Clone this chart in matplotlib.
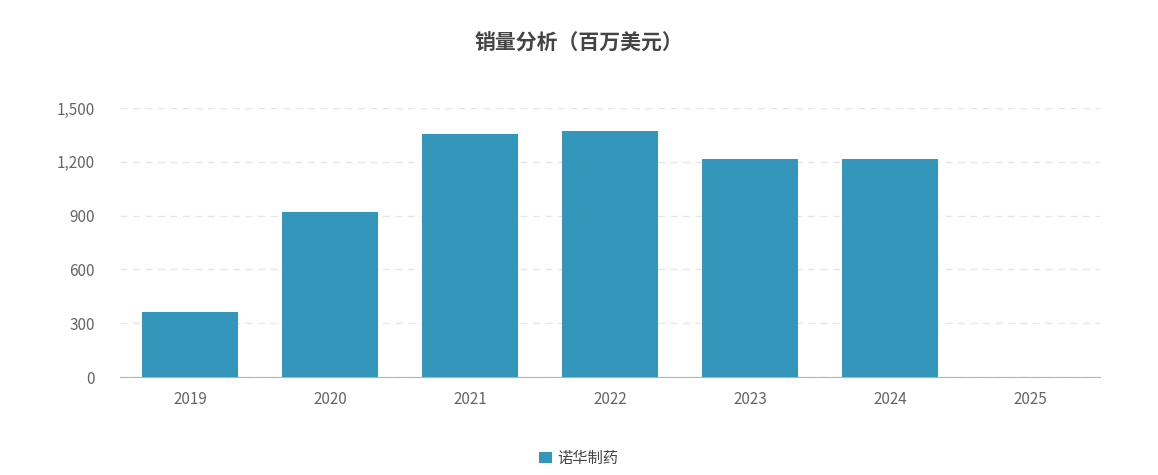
import matplotlib
matplotlib.use("Agg")
import matplotlib.pyplot as plt
from matplotlib.ticker import FuncFormatter

plt.rcParams['font.family'] = ['Noto Sans CJK SC', 'DejaVu Sans']

years = ["2019", "2020", "2021", "2022", "2023", "2024", "2025"]
sales = [362, 920, 1355, 1372, 1216, 1216, 0]
series_name = "诺华制药"
title = "销量分析（百万美元）"

fig = plt.figure(figsize=(11.58, 4.75), dpi=100)
ax = fig.add_axes([0.1036, 0.2063, 0.8463, 0.5663])
x = range(len(years))
ax.bar(x, sales, width=0.69, color="#3596bb", label=series_name, zorder=3)
ax.set_xlim(-0.5, len(years) - 0.5)
ax.set_ylim(0, 1500)
ax.set_yticks([0, 300, 600, 900, 1200, 1500])
ax.yaxis.set_major_formatter(FuncFormatter(lambda v, p: f"{int(v):,}"))
ax.set_xticks(list(x))
ax.set_xticklabels(years)
ax.grid(axis="y", color="#e3e6ea", linestyle=(0, (5, 4)), linewidth=1, zorder=0)
for s in ["top", "right", "left"]:
    ax.spines[s].set_visible(False)
ax.spines["bottom"].set_color("#b0b4bb")
ax.tick_params(axis="y", length=0, labelsize=11, labelcolor="#666666", pad=18)
ax.tick_params(axis="x", length=0, labelsize=11, labelcolor="#666666", pad=10)
fig.text(0.5, 0.91, title, ha="center", va="center", fontsize=15, fontweight="bold", color="#444444")
fig.legend(loc="center", bbox_to_anchor=(0.5, 0.035), frameon=False, fontsize=11,
           handlelength=0.8, handleheight=0.8, handletextpad=0.4, labelcolor="#444444")
fig.savefig("out.png", dpi=100)
